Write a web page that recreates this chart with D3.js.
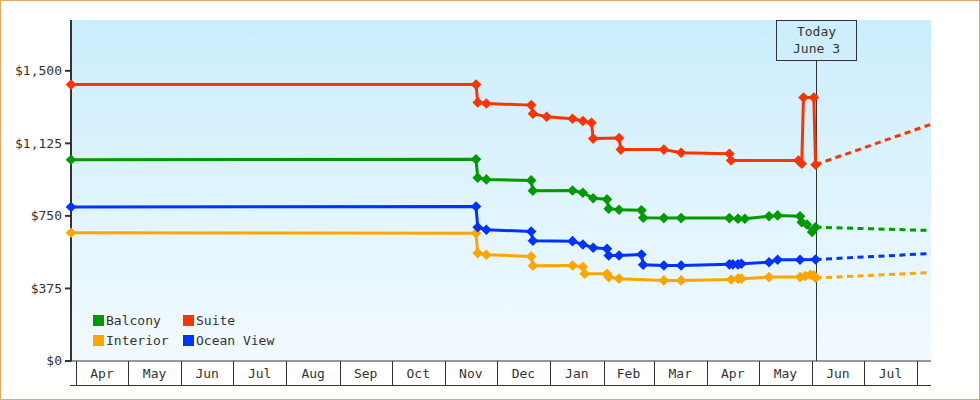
<!DOCTYPE html>
<html>
<head>
<meta charset="utf-8">
<script src="https://cdn.jsdelivr.net/npm/d3@7"></script>
<style>
  body { margin: 0; background: #fff; }
  svg text { font-family: "DejaVu Sans Mono", monospace; font-size: 13px; fill: #333; }
</style>
</head>
<body>
<div class="canvas"></div>
<script>
// Series names + colours (legend order)
const categories = ['Balcony', 'Suite', 'Interior', 'Ocean View'];
const colors = ['#009900', '#ff3300', '#ffa500', '#0033ff'];

// Observed prices [date, price]
const balcony = [
  ['2015-03-29', 1038], ['2015-11-19', 1040], ['2015-11-20', 945], ['2015-11-25', 936],
  ['2015-12-21', 931], ['2015-12-22', 878], ['2016-01-14', 879], ['2016-01-20', 867],
  ['2016-01-26', 839], ['2016-02-03', 833], ['2016-02-04', 785], ['2016-02-10', 779],
  ['2016-02-23', 776], ['2016-02-24', 738], ['2016-03-07', 736], ['2016-03-17', 736],
  ['2016-04-14', 736], ['2016-04-19', 733], ['2016-04-23', 733], ['2016-05-07', 746],
  ['2016-05-12', 750], ['2016-05-25', 746], ['2016-05-26', 715], ['2016-05-29', 703],
  ['2016-06-01', 664], ['2016-06-03', 689]
];
const suite = [
  ['2015-03-29', 1426], ['2015-11-19', 1426], ['2015-11-20', 1334], ['2015-11-25', 1328],
  ['2015-12-21', 1320], ['2015-12-22', 1276], ['2015-12-30', 1260], ['2016-01-14', 1250],
  ['2016-01-20', 1238], ['2016-01-25', 1229], ['2016-01-26', 1147], ['2016-02-10', 1150],
  ['2016-02-11', 1090], ['2016-03-07', 1090], ['2016-03-17', 1074], ['2016-04-14', 1069],
  ['2016-04-15', 1034], ['2016-05-24', 1034], ['2016-05-26', 1017], ['2016-05-27', 1359],
  ['2016-06-02', 1359], ['2016-06-03', 1012]
];
const interior = [
  ['2015-03-29', 660], ['2015-11-19', 658], ['2015-11-20', 555], ['2015-11-25', 547],
  ['2015-12-21', 538], ['2015-12-22', 490], ['2016-01-14', 491], ['2016-01-20', 483],
  ['2016-01-21', 448], ['2016-02-03', 448], ['2016-02-04', 431], ['2016-02-10', 423],
  ['2016-03-07', 414], ['2016-03-17', 414], ['2016-04-15', 419], ['2016-04-19', 423],
  ['2016-04-21', 423], ['2016-05-07', 431], ['2016-05-25', 431], ['2016-05-28', 436],
  ['2016-05-31', 443], ['2016-06-02', 440], ['2016-06-03', 426]
];
const oceanView = [
  ['2015-03-29', 793], ['2015-11-19', 796], ['2015-11-20', 689], ['2015-11-25', 676],
  ['2015-12-21', 667], ['2015-12-22', 619], ['2016-01-14', 617], ['2016-01-20', 600],
  ['2016-01-26', 583], ['2016-02-03', 578], ['2016-02-04', 543], ['2016-02-10', 543],
  ['2016-02-23', 548], ['2016-02-24', 495], ['2016-03-07', 491], ['2016-03-17', 491],
  ['2016-04-14', 497], ['2016-04-16', 497], ['2016-04-19', 497], ['2016-04-21', 500],
  ['2016-05-07', 508], ['2016-05-12', 521], ['2016-05-25', 521], ['2016-06-03', 522]
];

// Forecast after today (dashed)
const balconyForecast = [['2016-06-03', 689], ['2016-08-09', 672]];
const suiteForecast = [['2016-06-03', 1012], ['2016-08-09', 1221]];
const interiorForecast = [['2016-06-03', 426], ['2016-08-09', 455]];
const oceanViewForecast = [['2016-06-03', 522], ['2016-08-09', 553]];

const yTicks = [0, 375, 750, 1125, 1500];
const yMax = 1760;
const today = '2016-06-03';
const todayLabel = ['Today', 'June 3'];
const monthRange = ['2015-04-01', '2016-08-01'];

const parse = d3.timeParse('%Y-%m-%d');
const observed = [balcony, suite, interior, oceanView];
const forecast = [balconyForecast, suiteForecast, interiorForecast, oceanViewForecast];

// Layout
const dims = { width: 980, height: 400 };
const plot = { left: 71, right: 931, top: 20, bottom: 360.5 };

const svg = d3.select('.canvas')
  .append('svg')
  .attr('width', dims.width)
  .attr('height', dims.height);

const x = d3.scaleTime()
  .domain([parse(balcony[0][0]), parse(balconyForecast[1][0])])
  .range([plot.left, plot.right]);

const y = d3.scaleLinear()
  .domain([0, yMax])
  .range([plot.bottom, plot.top]);

// background gradient
const grad = svg.append('defs').append('linearGradient')
  .attr('id', 'bg').attr('x1', 0).attr('x2', 0).attr('y1', 0).attr('y2', 1);
grad.append('stop').attr('offset', '0%').attr('stop-color', '#cbeefc');
grad.append('stop').attr('offset', '100%').attr('stop-color', '#f2faff');

svg.append('rect')
  .attr('x', plot.left).attr('y', plot.top)
  .attr('width', plot.right - plot.left)
  .attr('height', plot.bottom - plot.top)
  .attr('fill', 'url(#bg)');

// month strip under the plot
const months = d3.timeMonth.range(parse(monthRange[0]), parse(monthRange[1]));
const strip = svg.append('g');
strip.append('line')
  .attr('x1', plot.left - 1).attr('x2', plot.right)
  .attr('y1', 361).attr('y2', 361)
  .attr('stroke', '#333');
strip.append('line')
  .attr('x1', plot.left - 1).attr('x2', plot.right)
  .attr('y1', 385.5).attr('y2', 385.5)
  .attr('stroke', '#333');
strip.selectAll('.sep')
  .data(months.concat([parse(monthRange[1])]))
  .enter().append('line')
  .attr('x1', d => Math.round(x(d)) + 0.5).attr('x2', d => Math.round(x(d)) + 0.5)
  .attr('y1', 361).attr('y2', 385)
  .attr('stroke', '#333');
strip.selectAll('.mlabel')
  .data(months)
  .enter().append('text')
  .attr('x', d => (x(d) + x(d3.timeMonth.offset(d, 1))) / 2)
  .attr('y', 378)
  .attr('text-anchor', 'middle')
  .text(d3.timeFormat('%b'));

// y axis
const yAxis = svg.append('g')
  .attr('transform', `translate(${plot.left}, 0)`)
  .call(d3.axisLeft(y).tickValues(yTicks).tickSize(6).tickPadding(3)
    .tickFormat(d => '$' + d3.format(',')(d)));
yAxis.select('.domain').remove();
yAxis.selectAll('.tick line').attr('stroke', '#333').attr('stroke-width', 2);
yAxis.selectAll('.tick text').attr('fill', '#333')
  .style('font-family', '"DejaVu Sans Mono", monospace').style('font-size', '13px');
svg.append('line')
  .attr('x1', plot.left).attr('x2', plot.left)
  .attr('y1', plot.top).attr('y2', 361.5)
  .attr('stroke', '#333').attr('stroke-width', 2);

// today marker
const tx = Math.round(x(parse(today))) + 0.5;
svg.append('line')
  .attr('x1', tx).attr('x2', tx)
  .attr('y1', 60).attr('y2', 361)
  .attr('stroke', '#333');
svg.append('rect')
  .attr('x', tx - 40).attr('y', 20.5)
  .attr('width', 80).attr('height', 40)
  .attr('fill', 'none').attr('stroke', '#333');
svg.selectAll('.today')
  .data(todayLabel)
  .enter().append('text')
  .attr('x', tx).attr('y', (d, i) => 36 + i * 17)
  .attr('text-anchor', 'middle')
  .text(d => d);

// lines
const line = d3.line()
  .x(d => x(parse(d[0])))
  .y(d => y(d[1]));

const diamond = d3.symbol(d3.symbolSquare, 56);

observed.forEach((series, i) => {
  const g = svg.append('g');
  g.append('path')
    .attr('d', line(forecast[i]))
    .attr('fill', 'none')
    .attr('stroke', colors[i])
    .attr('stroke-width', 3)
    .attr('stroke-dasharray', '6,4.5');
  g.append('path')
    .attr('d', line(series))
    .attr('fill', 'none')
    .attr('stroke', colors[i])
    .attr('stroke-width', 3)
    .attr('stroke-linejoin', 'round');
  g.selectAll('.pt')
    .data(series)
    .enter().append('path')
    .attr('d', diamond)
    .attr('transform', d => `translate(${x(parse(d[0]))}, ${y(d[1])}) rotate(45)`)
    .attr('fill', colors[i]);
});

// legend
const legend = svg.append('g').attr('transform', 'translate(93, 315)');
const item = legend.selectAll('g')
  .data(categories)
  .enter().append('g')
  .attr('transform', (d, i) => `translate(${(i % 2) * 90}, ${Math.floor(i / 2) * 20})`);
item.append('rect')
  .attr('width', 11).attr('height', 11)
  .attr('fill', (d, i) => colors[i]);
item.append('text')
  .attr('x', 13).attr('y', 10)
  .text(d => d);

// outer frame
svg.append('rect')
  .attr('x', 0.5).attr('y', 0.5)
  .attr('width', dims.width - 1).attr('height', dims.height - 1)
  .attr('fill', 'none')
  .attr('stroke', '#e8a862');
</script>
</body>
</html>
